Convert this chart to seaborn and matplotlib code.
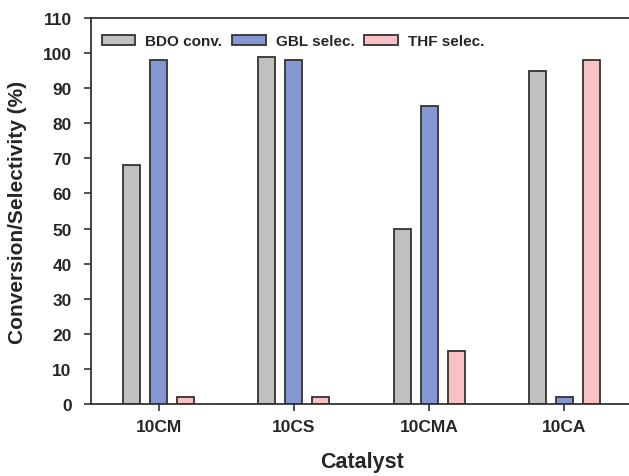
import seaborn as sns
import matplotlib.pyplot as plt
import pandas as pd

catalysts = ['10CM', '10CS', '10CMA', '10CA']
bdo_conv = [68, 99, 50, 95]
gbl_selec = [98, 98, 85, 2]
thf_selec = [2, 2, 15, 98]
series_names = ['BDO conv.', 'GBL selec.', 'THF selec.']
bar_colors = ['#c0c0c0', '#8497d0', '#f9c1c4']

df = pd.DataFrame({'Catalyst': catalysts * 3,
                   'Value': bdo_conv + gbl_selec + thf_selec,
                   'Series': [s for s in series_names for _ in catalysts]})

sns.set_style('ticks')
plt.rcParams['font.family'] = ['Liberation Sans', 'DejaVu Sans']
plt.rcParams['font.weight'] = 'bold'

fig = plt.figure(figsize=(6.29, 4.77), dpi=100)
ax = fig.add_axes([91/629, 72/477, 541/629, 386/477])

sns.barplot(data=df, x='Catalyst', y='Value', hue='Series', order=catalysts,
            hue_order=series_names, palette=bar_colors, width=0.6, gap=0.37,
            edgecolor='#333333', linewidth=1.3, saturation=1, ax=ax)

ax.set_xlim(-0.5, 3.5)
ax.set_ylim(0, 110)
ax.set_yticks(range(0, 111, 10))
ax.set_xlabel('Catalyst', fontsize=15.5, fontweight='bold', labelpad=12)
ax.set_ylabel('Conversion/Selectivity (%)', fontsize=15, fontweight='bold', labelpad=11)
ax.tick_params(axis='both', labelsize=12.5, direction='out', length=5, width=1.2, color='#333333')
ax.tick_params(axis='x', pad=6)
ax.tick_params(axis='y', pad=9)
for lab in ax.get_xticklabels() + ax.get_yticklabels():
    lab.set_fontweight('bold')
for sp in ax.spines.values():
    sp.set_linewidth(1.3)
    sp.set_color('#333333')

ax.legend(loc='upper left', ncol=3, frameon=False, fontsize=11,
          handlelength=2.2, handleheight=0.7, columnspacing=0.65, handletextpad=0.65,
          bbox_to_anchor=(0.0, 0.985), borderaxespad=0.2, borderpad=0.5)

fig.savefig('out.png', dpi=100)
